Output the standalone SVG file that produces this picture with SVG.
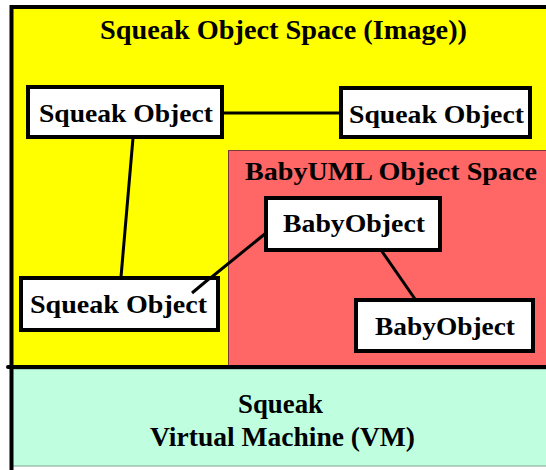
<svg xmlns="http://www.w3.org/2000/svg" width="546" height="470" viewBox="0 0 546 470">
<style>
text{font-family:"Liberation Serif","Times New Roman",serif;font-weight:bold;font-size:26px;fill:#000}
.big{font-size:27px}
.box{fill:#fff;stroke:#000;stroke-width:4}
.conn{stroke:#000;stroke-width:3;fill:none}
</style>
<rect width="546" height="470" fill="#fff"/>
<g id="image-space">
<rect x="11.5" y="7" width="560" height="360" fill="#ffff00" stroke="#000" stroke-width="4"/>
<text class="big" x="100" y="39" textLength="367" lengthAdjust="spacingAndGlyphs">Squeak Object Space (Image))</text>
</g>
<g id="babyuml-space">
<rect x="228.5" y="150.5" width="330" height="216" fill="#ff6666" stroke="#7a3a3a" stroke-width="1"/>
<text x="245" y="180" textLength="292" lengthAdjust="spacingAndGlyphs">BabyUML Object Space</text>
</g>
<g id="vm">
<rect x="11.5" y="369" width="560" height="97" fill="#bfffe0" stroke="#7fa090" stroke-width="1"/>
<line x1="11.5" y1="367" x2="11.5" y2="470" stroke="#000" stroke-width="4"/>
<text class="big" x="238" y="413" textLength="85" lengthAdjust="spacingAndGlyphs">Squeak</text>
<text class="big" x="150" y="446" textLength="265" lengthAdjust="spacingAndGlyphs">Virtual Machine (VM)</text>
</g>
<g id="connectors">
<line class="conn" x1="222" y1="113" x2="340" y2="113"/>
<line class="conn" x1="133" y1="138" x2="121" y2="277"/>
<line class="conn" x1="192" y1="293" x2="266" y2="233"/>
<line class="conn" x1="381" y1="250" x2="415" y2="299"/>
</g>
<line x1="8" y1="367" x2="546" y2="367" stroke="#000" stroke-width="4" stroke-linecap="round"/>
<g id="squeak-object-1">
<rect class="box" x="28" y="87" width="194" height="50"/>
<text x="39" y="122" textLength="174" lengthAdjust="spacingAndGlyphs">Squeak Object</text>
</g>
<g id="squeak-object-2">
<rect class="box" x="341" y="88" width="189" height="49"/>
<text x="349" y="123" textLength="175" lengthAdjust="spacingAndGlyphs">Squeak Object</text>
</g>
<g id="squeak-object-3">
<rect class="box" x="21" y="278" width="197" height="52"/>
<text x="30" y="313" textLength="177" lengthAdjust="spacingAndGlyphs">Squeak Object</text>
</g>
<line class="conn" x1="192" y1="293" x2="210" y2="278"/>
<g id="baby-object-1">
<rect class="box" x="266" y="198" width="174" height="52"/>
<text x="283" y="232" textLength="142" lengthAdjust="spacingAndGlyphs">BabyObject</text>
</g>
<g id="baby-object-2">
<rect class="box" x="356" y="300" width="177" height="51"/>
<text x="375" y="335" textLength="140" lengthAdjust="spacingAndGlyphs">BabyObject</text>
</g>
</svg>
